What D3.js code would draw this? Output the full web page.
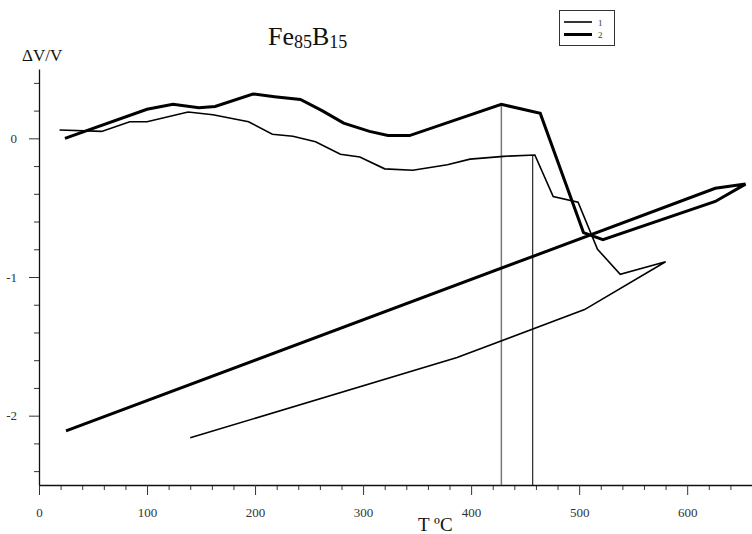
<!DOCTYPE html>
<html><head><meta charset="utf-8">
<script src="https://cdn.jsdelivr.net/npm/d3@7"></script>
<style>body{margin:0;background:#fff}svg{display:block}</style>
</head><body>
<script>
// Curve 1 (thin): temperature (°C) and ΔV/V
const T1 = [19, 58, 84, 100, 138, 161, 194, 216, 235, 256, 279, 297, 320, 346, 378, 399, 430, 459, 476, 499, 517, 538, 580, 505, 387, 140];
const V1 = [0.06, 0.05, 0.12, 0.12, 0.19, 0.17, 0.12, 0.03, 0.015, -0.025, -0.115, -0.135, -0.22, -0.23, -0.19, -0.15, -0.13, -0.12, -0.42, -0.46, -0.80, -0.98, -0.89, -1.235, -1.58, -2.16];
// Curve 2 (thick)
const T2 = [24, 100, 124, 148, 163, 198, 218, 242, 262, 282, 306, 323, 343, 428, 464, 504, 522, 626, 654, 626, 25];
const V2 = [0.0, 0.21, 0.245, 0.22, 0.23, 0.32, 0.30, 0.28, 0.20, 0.11, 0.05, 0.02, 0.02, 0.245, 0.18, -0.68, -0.73, -0.455, -0.33, -0.36, -2.11];
// Vertical marker lines
const vlineT = [428, 457];
const vlineTop = [0.245, -0.12];
// Axis ticks
const xMajor = [0, 100, 200, 300, 400, 500, 600];
const yMajor = [0, -1, -2];
const legendLabels = ["1", "2"];

const W = 752, H = 534;
const svg = d3.select("body").append("svg").attr("width", W).attr("height", H);
const x = d3.scaleLinear().domain([0, 660]).range([39, 752]);
const y = d3.scaleLinear().domain([-2.5, 0.5]).range([485, 69]);

const font = "'Liberation Serif', 'Times New Roman', serif";

// X axis
const xMinor = d3.range(0, 661, 20).filter(v => v % 100 !== 0);
const gx = svg.append("g").attr("transform", `translate(0,${y(-2.5)})`);
gx.call(d3.axisBottom(x).tickValues(xMinor).tickSize(5).tickFormat(""));
gx.call(g => g.select(".domain").remove());
const gx2 = svg.append("g").attr("transform", `translate(0,${y(-2.5)})`);
gx2.call(d3.axisBottom(x).tickValues(xMajor).tickSize(10).tickSizeOuter(0).tickPadding(13).tickFormat(d => String(d)));
gx2.select(".domain").attr("stroke", "#111").attr("stroke-width", 1.3);
gx2.selectAll("text").attr("font-family", font).attr("font-size", 13).attr("fill", "#333");

// Y axis
const yMinor = d3.range(-12, 3).map(v => +(v * 0.2).toFixed(1)).filter(v => Math.abs(v - Math.round(v)) > 1e-6);
const gy = svg.append("g").attr("transform", `translate(${x(0)},0)`);
gy.call(d3.axisLeft(y).tickValues(yMinor).tickSize(5).tickFormat(""));
gy.call(g => g.select(".domain").remove());
const gy2 = svg.append("g").attr("transform", `translate(${x(0)},0)`);
gy2.call(d3.axisLeft(y).tickValues(yMajor).tickSize(10).tickSizeOuter(0).tickPadding(12).tickFormat(d => String(d)));
gy2.select(".domain").attr("stroke", "#111").attr("stroke-width", 1.3);
gy2.selectAll("text").attr("font-family", font).attr("font-size", 13).attr("fill", "#333");
svg.selectAll(".tick line").attr("stroke", "#333");

// Vertical lines
svg.append("g").selectAll("line").data(vlineT).join("line")
  .attr("x1", d => x(d)).attr("x2", d => x(d))
  .attr("y1", (d, i) => y(vlineTop[i])).attr("y2", y(-2.5))
  .attr("stroke", (d, i) => i === 0 ? "#777" : "#111")
  .attr("stroke-width", (d, i) => i === 0 ? 1.5 : 1.1);

// Curves
const line = d3.line().x(d => x(d[0])).y(d => y(d[1]));
const c1 = T1.map((t, i) => [t, V1[i]]);
const c2 = T2.map((t, i) => [t, V2[i]]);
svg.append("path").datum(c1).attr("d", line).attr("fill", "none")
  .attr("stroke", "#000").attr("stroke-width", 1.6).attr("stroke-linejoin", "miter");
svg.append("path").datum(c2).attr("d", line).attr("fill", "none")
  .attr("stroke", "#000").attr("stroke-width", 3).attr("stroke-linejoin", "miter");

// Title
const title = svg.append("text").attr("x", 268).attr("y", 45)
  .attr("font-family", font).attr("font-size", 26).attr("fill", "#111");
title.append("tspan").text("Fe");
title.append("tspan").attr("font-size", 18).attr("dy", 3).text("85");
title.append("tspan").attr("dy", -3).text("B");
title.append("tspan").attr("font-size", 18).attr("dy", 3).text("15");

// Axis titles
svg.append("text").attr("x", 22).attr("y", 61).attr("font-family", font)
  .attr("font-size", 17).attr("fill", "#111").text("ΔV/V");
svg.append("text").attr("x", 418).attr("y", 531).attr("font-family", font)
  .attr("font-size", 19).attr("fill", "#111").text("T ºC");

// Legend
const lg = svg.append("g");
lg.append("rect").attr("x", 559.5).attr("y", 10.5).attr("width", 55).attr("height", 35)
  .attr("fill", "#fff").attr("stroke", "#333").attr("stroke-width", 1);
lg.selectAll("line").data(legendLabels).join("line")
  .attr("x1", 564).attr("x2", 592)
  .attr("y1", (d, i) => 22 + i * 12.5).attr("y2", (d, i) => 22 + i * 12.5)
  .attr("stroke", "#000").attr("stroke-width", (d, i) => i === 0 ? 1.6 : 3);
lg.selectAll("text").data(legendLabels).join("text")
  .attr("x", 598).attr("y", (d, i) => 25.5 + i * 12.5)
  .attr("font-family", font).attr("font-size", 9).attr("fill", "#333").text(d => d);
</script>
</body></html>
